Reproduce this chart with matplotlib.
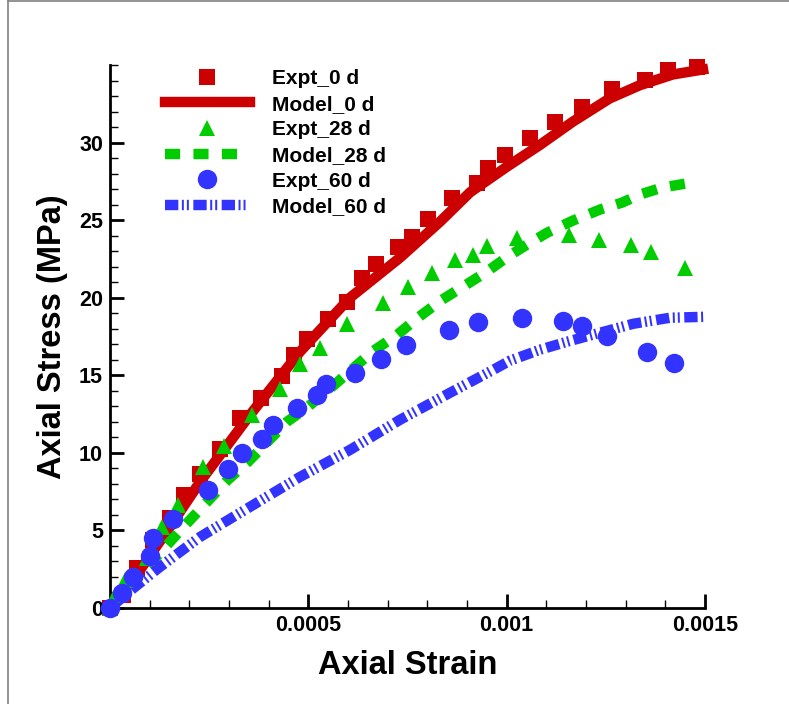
import numpy as np
import matplotlib
matplotlib.use('Agg')
import matplotlib.pyplot as plt
from matplotlib.lines import Line2D
from matplotlib.ticker import MultipleLocator

# experimental points and model curves: axial strain vs axial stress (MPa)

# 0 days
expt0_strain = [0.0, 3.3e-5, 6.8e-5, 1.08e-4, 1.51e-4, 1.87e-4, 2.27e-4, 2.77e-4,
                3.28e-4, 3.81e-4, 4.34e-4, 4.64e-4, 4.97e-4, 5.50e-4, 5.98e-4,
                6.35e-4, 6.71e-4, 7.26e-4, 7.61e-4, 8.02e-4, 8.62e-4, 9.25e-4,
                9.53e-4, 9.96e-4, 1.059e-3, 1.122e-3, 1.190e-3, 1.266e-3,
                1.349e-3, 1.407e-3, 1.480e-3]
expt0_stress = [0.0, 0.84, 2.58, 4.39, 5.81, 7.29, 8.65, 10.26, 12.26, 13.55,
                14.97, 16.32, 17.35, 18.65, 19.74, 21.29, 22.19, 23.29, 23.94,
                25.10, 26.45, 27.42, 28.39, 29.23, 30.32, 31.35, 32.32, 33.48,
                34.06, 34.65, 34.84]
model0_strain = [0.0, 7.56e-5, 1.51e-4, 2.27e-4, 3.53e-4, 4.79e-4, 6.05e-4,
                 7.31e-4, 8.32e-4, 9.08e-4, 1.001e-3, 1.084e-3, 1.167e-3,
                 1.260e-3, 1.336e-3, 1.419e-3, 1.495e-3]
model0_stress = [0.0, 2.45, 5.23, 8.13, 12.45, 16.52, 20.0, 22.58, 24.9, 26.8,
                 28.45, 29.85, 31.35, 32.85, 33.7, 34.39, 34.71]

# 28 days
expt28_strain = [0.0, 1.26e-5, 3.78e-5, 9.33e-5, 1.31e-4, 1.71e-4, 2.34e-4,
                 2.87e-4, 3.58e-4, 4.29e-4, 4.79e-4, 5.29e-4, 5.97e-4, 6.88e-4,
                 7.51e-4, 8.12e-4, 8.70e-4, 9.15e-4, 9.50e-4, 1.026e-3,
                 1.157e-3, 1.233e-3, 1.313e-3, 1.364e-3, 1.450e-3]
expt28_stress = [0.0, 0.84, 1.81, 3.23, 5.23, 6.65, 9.10, 10.45, 12.45, 14.13,
                 15.74, 16.77, 18.32, 19.68, 20.71, 21.61, 22.45, 22.77, 23.35,
                 23.87, 24.06, 23.74, 23.42, 22.97, 21.94]
model28_strain = [0.0, 7.56e-5, 1.51e-4, 2.02e-4, 2.97e-4, 3.48e-4, 4.46e-4,
                  4.99e-4, 5.60e-4, 6.61e-4, 7.24e-4, 7.76e-4, 8.37e-4,
                  8.90e-4, 9.50e-4, 1.003e-3, 1.051e-3, 1.102e-3, 1.167e-3,
                  1.235e-3, 1.291e-3, 1.336e-3, 1.392e-3, 1.480e-3]
model28_stress = [0.0, 2.13, 4.26, 5.68, 8.26, 9.42, 12.0, 12.97, 14.26, 16.52,
                  17.61, 18.71, 19.87, 20.71, 21.68, 22.65, 23.42, 24.19,
                  24.97, 25.68, 26.13, 26.65, 27.10, 27.48]

# 60 days
expt60_strain = [0.0, 3.03e-5, 5.80e-5, 1.01e-4, 1.08e-4, 1.59e-4, 2.47e-4,
                 2.97e-4, 3.33e-4, 3.83e-4, 4.11e-4, 4.71e-4, 5.22e-4, 5.45e-4,
                 6.18e-4, 6.83e-4, 7.46e-4, 8.55e-4, 9.28e-4, 1.039e-3,
                 1.142e-3, 1.190e-3, 1.253e-3, 1.354e-3, 1.422e-3]
expt60_stress = [0.0, 0.97, 2.0, 3.35, 4.52, 5.74, 7.61, 8.97, 10.0, 10.90,
                 11.81, 12.90, 13.74, 14.45, 15.16, 16.06, 16.97, 17.94, 18.45,
                 18.71, 18.52, 18.19, 17.55, 16.52, 15.81]
model60_strain = [0.0, 5.04e-5, 1.26e-4, 2.27e-4, 3.53e-4, 4.79e-4, 6.05e-4,
                  7.31e-4, 8.57e-4, 9.66e-4, 1.008e-3, 1.084e-3, 1.152e-3,
                  1.235e-3, 1.319e-3, 1.412e-3, 1.500e-3]
model60_stress = [0.0, 1.10, 2.65, 4.58, 6.52, 8.45, 10.19, 12.13, 13.87,
                  15.35, 15.94, 16.65, 17.16, 17.74, 18.32, 18.71, 18.77]

xtick_vals = [0.0005, 0.001, 0.0015]
xtick_labels = ['0.0005', '0.001', '0.0015']
ytick_vals = [0, 5, 10, 15, 20, 25, 30]

red = '#cc0000'
green = '#00cc00'
blue = '#3333ff'

plt.rcParams['font.family'] = ['Liberation Sans', 'DejaVu Sans']
plt.rcParams['font.weight'] = 'bold'

fig = plt.figure(figsize=(7.89, 7.04), dpi=100)
ax = fig.add_axes([110/789, 1 - 608/704, 595/789, 543/704])

lw = 7.5
ax.plot(expt0_strain, expt0_stress, 's', color=red, ms=11, mew=0,
        clip_on=False, label='Expt_0 d', zorder=3)
ax.plot(model0_strain, model0_stress, '-', color=red, lw=lw,
        clip_on=False, label='Model_0 d', zorder=4)
ax.plot(expt28_strain, expt28_stress, '^', color=green, ms=12, mew=0,
        clip_on=False, label='Expt_28 d', zorder=5)
ax.plot(model28_strain, model28_stress, color=green, lw=lw,
        linestyle=(0, (1.45, 1.28)), clip_on=False, label='Model_28 d', zorder=4)
ax.plot(expt60_strain, expt60_stress, 'o', color=blue, ms=14, mew=0,
        clip_on=False, label='Expt_60 d', zorder=6)
ax.plot(model60_strain, model60_stress, color=blue, lw=lw,
        linestyle=(0, (1.28, 0.34, 0.19, 0.29, 0.19, 0.43)),
        clip_on=False, label='Model_60 d', zorder=4)

ax.set_xlim(0, 0.0015)
ax.set_ylim(0, 35)
ax.set_xticks(xtick_vals)
ax.set_xticklabels(xtick_labels)
ax.set_yticks(ytick_vals)
ax.xaxis.set_minor_locator(MultipleLocator(0.0001))
ax.yaxis.set_minor_locator(MultipleLocator(1))

# Tecplot-like axes: only left/bottom, ticks pointing in
ax.spines['top'].set_visible(False)
ax.spines['right'].set_visible(False)
for s in ['left', 'bottom']:
    ax.spines[s].set_linewidth(2.0)
ax.tick_params(which='major', direction='in', length=10, width=2.0,
               labelsize=15.5, pad=5)
ax.tick_params(which='minor', direction='in', length=6, width=1.0)
for t in ax.get_xticklabels() + ax.get_yticklabels():
    t.set_fontweight('bold')

ax.set_xlabel('Axial Strain', fontsize=23.5, fontweight='bold', labelpad=10)
ax.set_ylabel('Axial Stress (MPa)', fontsize=23.5, fontweight='bold', labelpad=8)

leg = ax.legend(loc='upper left', bbox_to_anchor=(165/789, 1 - 69/704),
                bbox_transform=fig.transFigure, frameon=False, fontsize=15,
                handlelength=4.07, handletextpad=1.06, labelspacing=0.32,
                borderpad=0, borderaxespad=0, numpoints=1)
for t in leg.get_texts():
    t.set_fontweight('bold')

# frame lines on the left and top edges of the page
fig.add_artist(Line2D([8/789, 8/789], [0, 1 - 1/704], color='#808080', lw=1.2))
fig.add_artist(Line2D([8/789, 1], [1 - 1/704, 1 - 1/704], color='#808080', lw=1.2))

fig.savefig('out.png', dpi=100)
